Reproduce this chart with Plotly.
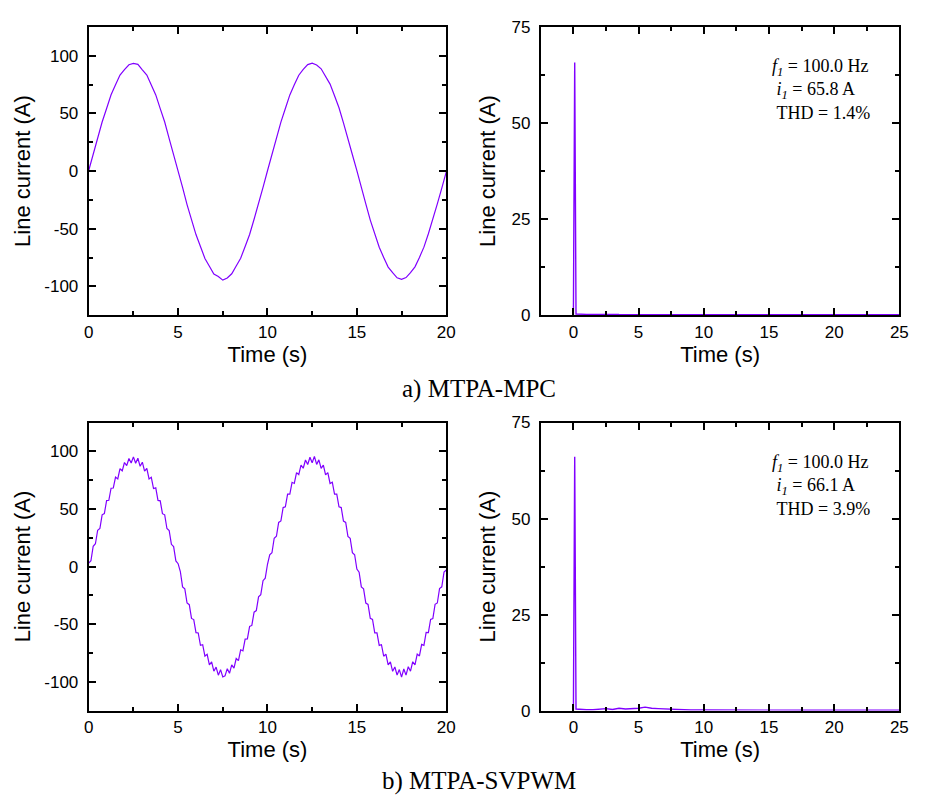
import plotly.graph_objects as go
from plotly.subplots import make_subplots

# ---------------- data ----------------
mpc_step = 0.25     # s, sampling step of the MTPA-MPC waveform
mpc_current = [
    0.5, 14.9, 28.3, 42.6, 54.3, 66.2, 75.0, 83.3, 88.1, 92.3, 93.4,
    92.6, 87.9, 83.4, 74.7, 66.1, 54.2, 42.6, 28.2, 14.9, -0.4,
    -14.1, -29.1, -41.8, -55.1, -65.4, -75.8, -82.6, -89.4, -91.5, -94.6,
    -92.8, -89.1, -82.4, -75.6, -65.4, -55.0, -41.8, -29.0, -14.1, 0.3,
    14.8, 28.4, 42.5, 54.3, 66.1, 74.9, 83.2, 88.2, 92.4, 93.6,
    92.1, 88.8, 82.6, 75.5, 65.4, 55.0, 41.9, 28.9, 14.2, 0.4,
    -14.8, -28.4, -42.5, -54.4, -66.1, -74.9, -83.3, -88.2, -92.6, -93.9,
    -92.4, -88.2, -83.1, -74.9, -66.0, -54.4, -42.4, -28.4, -14.8, -0.6,
]
mpc_time = [i * mpc_step for i in range(len(mpc_current))]

svpwm_step = 0.125  # s, sampling step of the MTPA-SVPWM waveform
svpwm_current = [
    3.0, 5.1, 17.6, 19.8, 31.5, 33.0, 44.9, 46.0, 57.3, 57.5, 68.0,
    68.2, 77.6, 76.1, 84.9, 83.1, 90.3, 87.6, 93.8, 89.9, 95.2,
    89.6, 94.0, 87.0, 90.6, 82.8, 85.1, 76.0, 77.5, 67.7, 68.3,
    57.4, 57.0, 45.9, 44.9, 33.0, 31.3, 19.3, 17.3, 4.9, 2.5,
    -4.3, -17.6, -19.4, -31.6, -33.1, -45.0, -46.0, -57.4, -57.6, -68.3,
    -67.8, -77.7, -76.2, -85.3, -82.8, -90.8, -87.3, -94.3, -89.5, -95.8,
    -94.9, -88.6, -92.7, -85.3, -88.2, -79.8, -81.6, -72.2, -73.1, -62.9,
    -62.8, -51.9, -51.1, -39.6, -38.2, -26.3, -24.4, -12.3, -10.1, 2.0,
    10.1, 12.0, 24.6, 26.3, 38.3, 39.6, 51.2, 51.8, 62.9, 62.8,
    73.1, 72.1, 81.5, 79.7, 88.0, 85.3, 92.5, 88.6, 94.9, 90.1,
    95.6, 88.7, 92.6, 85.2, 88.1, 79.6, 81.5, 72.1, 73.2, 62.8,
    62.9, 51.8, 51.2, 39.5, 38.3, 26.2, 24.6, 12.1, 10.3, -2.2,
    -4.9, -17.6, -19.3, -31.7, -32.9, -45.0, -45.8, -57.5, -57.5, -68.4,
    -67.8, -77.8, -76.0, -85.4, -82.7, -90.9, -87.2, -94.2, -89.4, -96.0,
    -88.9, -94.2, -86.9, -90.8, -82.6, -85.3, -75.9, -77.6, -67.6, -68.4,
    -57.2, -57.3, -45.8, -45.1, -32.8, -31.6, -19.1, -17.6, -4.8, -3.0,
]
svpwm_time = [i * svpwm_step for i in range(len(svpwm_current))]

spec_x = [0.0, 0.1, 0.2, 0.5, 1.0, 1.5, 2.0, 2.5, 3.0, 3.5, 4.0, 4.5, 5.0,
          5.5, 5.8, 6.0, 6.5, 7.0, 7.5, 8.0, 9.0, 10.0, 12.0, 14.0, 16.0,
          18.0, 20.0, 22.0, 24.0, 25.0]
mpc_spec = [0.0, 65.8, 0.3, 0.2, 0.2, 0.15, 0.2, 0.15, 0.2, 0.15, 0.15, 0.1,
            0.15, 0.1, 0.1, 0.1, 0.1, 0.1, 0.1, 0.1, 0.1, 0.1, 0.1, 0.1, 0.1,
            0.1, 0.1, 0.1, 0.1, 0.1]
svpwm_spec = [0.0, 66.1, 0.4, 0.3, 0.2, 0.2, 0.3, 0.5, 0.3, 0.6, 0.4, 0.5,
              0.6, 0.9, 0.7, 0.6, 0.5, 0.4, 0.3, 0.2, 0.15, 0.15, 0.1, 0.1,
              0.1, 0.1, 0.1, 0.1, 0.1, 0.1]

wave_ticks = [-100, -50, 0, 50, 100]
wave_ticktext = ["-100", "-50", "0", "50", "100"]

info_mpc = ["<i>f<sub>1</sub></i> = 100.0 Hz", "&nbsp;<i>i<sub>1</sub></i> = 65.8 A", "&nbsp;THD = 1.4%"]
info_svpwm = ["<i>f<sub>1</sub></i> = 100.0 Hz", "&nbsp;<i>i<sub>1</sub></i> = 66.1 A", "&nbsp;THD = 3.9%"]
captions = ["a) MTPA-MPC", "b) MTPA-SVPWM"]

# ---------------- figure ----------------
W, H = 930, 807
LINE = "#8000ff"
SANS = "Liberation Sans, Arial, sans-serif"
SERIF = "Liberation Serif, Times New Roman, serif"

fig = make_subplots(rows=2, cols=2)

fig.add_trace(go.Scatter(x=mpc_time, y=mpc_current, mode="lines",
                         line=dict(color=LINE, width=1.2), showlegend=False), 1, 1)
fig.add_trace(go.Scatter(x=spec_x, y=mpc_spec, mode="lines",
                         line=dict(color=LINE, width=1.4), showlegend=False), 1, 2)
fig.add_trace(go.Scatter(x=svpwm_time, y=svpwm_current, mode="lines",
                         line=dict(color=LINE, width=1.2), showlegend=False), 2, 1)
fig.add_trace(go.Scatter(x=spec_x, y=svpwm_spec, mode="lines",
                         line=dict(color=LINE, width=1.4), showlegend=False), 2, 2)

def px_x(a, b):
    return [a / W, b / W]

def px_y(top, bottom):
    return [1 - bottom / H, 1 - top / H]

left_dom = px_x(85, 448)
right_dom = px_x(544, 908)
top_dom = px_y(18.5, 313.5)
bot_dom = px_y(423.5, 718.5)

common = dict(
    showline=True, linecolor="black", linewidth=2, mirror="ticks",
    ticks="inside", ticklen=7, tickwidth=1.5, tickcolor="black",
    showgrid=False, zeroline=False,
    tickfont=dict(family=SANS, size=17, color="black"),
)
minor_common = dict(ticks="inside", ticklen=4, tickwidth=1.5, tickcolor="black", showgrid=False)
title_font = dict(family=SANS, size=22, color="black")

for r, ydom in ((1, top_dom), (2, bot_dom)):
    # waveform panel
    fig.update_xaxes(row=r, col=1, domain=left_dom, range=[0, 20], dtick=5, tick0=0,
                     minor=dict(dtick=2.5, **minor_common), ticklabelstandoff=0,
                     title=dict(text="Time (s)", font=title_font, standoff=4),
                     **common)
    fig.update_yaxes(row=r, col=1, domain=ydom, range=[-125, 125],
                     tickmode="array", tickvals=wave_ticks, ticktext=wave_ticktext,
                     minor=dict(dtick=25, tick0=0, **minor_common), ticklabelstandoff=5,
                     title=dict(text="Line current (A)", font=title_font, standoff=8),
                     **common)
    # spectrum panel
    fig.update_xaxes(row=r, col=2, domain=right_dom, range=[-2.5, 25], dtick=5, tick0=0,
                     minor=dict(dtick=2.5, **minor_common), ticklabelstandoff=0,
                     title=dict(text="Time (s)", font=title_font, standoff=4),
                     **common)
    fig.update_yaxes(row=r, col=2, domain=ydom, range=[0, 75], dtick=25, tick0=0,
                     minor=dict(dtick=12.5, **minor_common), ticklabelstandoff=5,
                     title=dict(text="Line current (A)", font=title_font, standoff=10),
                     **common)

annotations = []
for info, top in ((info_mpc, 0), (info_svpwm, 406)):
    annotations.append(dict(
        xref="paper", yref="paper", x=777 / W, y=1 - (46 + top) / H,
        xanchor="left", yanchor="top", align="left", showarrow=False,
        text="<br>".join(info),
        font=dict(family=SERIF, size=18, color="black")))
for txt, ypx in zip(captions, (389, 791)):
    annotations.append(dict(
        xref="paper", yref="paper", x=481 / W, y=1 - ypx / H,
        xanchor="center", yanchor="middle", showarrow=False, text=txt,
        font=dict(family=SERIF, size=25, color="black")))

fig.update_layout(
    width=W, height=H, margin=dict(l=0, r=0, t=0, b=0),
    paper_bgcolor="white", plot_bgcolor="white",
    annotations=annotations, showlegend=False,
)

fig.write_html("out.html")
